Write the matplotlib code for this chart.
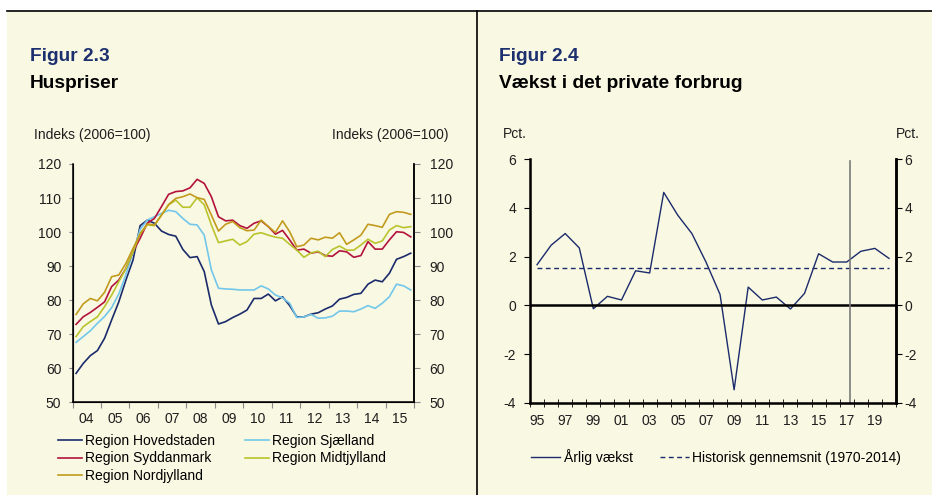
import matplotlib
matplotlib.use("Agg")
import matplotlib.pyplot as plt
from matplotlib.patches import Rectangle
from matplotlib.lines import Line2D
import numpy as np

plt.rcParams["font.family"] = ["Liberation Sans", "DejaVu Sans"]
plt.rcParams["axes.unicode_minus"] = False

CREAM = "#f9f8e3"
TXT = "#1e1e1e"
TICKC = "#8a8a8a"

# Figur 2.3: quarterly house price index 2004Q1-2015Q4 (2006=100)
quarters = 2004 + (np.arange(48) + 0.5) / 4
hovedstaden = [58.5, 61.4, 63.7, 65.2, 68.8, 74.2, 79.5, 85.9, 91.8, 101.9, 103.5, 102.6,
               100.3, 99.3, 98.8, 94.9, 92.5, 92.8, 88.4, 78.6, 73.0, 73.7, 74.9, 75.9,
               77.1, 80.5, 80.5, 81.8, 79.8, 81.0, 78.4, 75.1, 75.1, 75.9, 76.3, 77.4,
               78.3, 80.3, 80.8, 81.7, 82.0, 84.7, 85.9, 85.4, 87.9, 92.0, 92.8, 93.8]
sjaelland = [67.6, 69.3, 71.0, 73.2, 75.2, 77.8, 81.8, 87.5, 94.0, 100.8, 103.5, 104.5,
             105.5, 106.4, 106.0, 104.0, 102.3, 102.1, 99.1, 88.9, 83.5, 83.3, 83.2, 83.0,
             83.0, 83.0, 84.2, 83.3, 81.5, 80.7, 79.1, 74.9, 75.1, 75.8, 74.7, 74.8,
             75.3, 76.8, 76.8, 76.6, 77.4, 78.4, 77.6, 79.1, 81.0, 84.7, 84.2, 83.0]
syddanmark = [72.9, 75.1, 76.4, 77.9, 79.5, 84.0, 85.9, 89.3, 94.2, 98.2, 102.6, 104.0,
              107.5, 111.1, 111.9, 112.1, 113.0, 115.5, 114.3, 110.4, 104.5, 103.3, 103.5, 101.9,
              101.1, 102.6, 103.3, 101.6, 99.4, 100.5, 97.7, 94.7, 95.0, 93.8, 94.2, 93.1,
              92.9, 94.5, 94.2, 92.6, 93.1, 97.2, 95.0, 95.0, 97.7, 100.1, 99.9, 98.6]
midtjylland = [69.3, 72.2, 73.7, 75.1, 78.1, 81.5, 85.4, 89.3, 94.2, 99.6, 102.1, 101.9,
               105.0, 108.0, 109.4, 107.3, 107.3, 110.1, 108.0, 102.1, 96.9, 97.4, 97.9, 96.2,
               97.2, 99.4, 99.8, 99.1, 98.5, 98.2, 96.4, 94.7, 92.6, 93.9, 94.4, 92.8,
               94.9, 95.9, 94.7, 94.7, 96.2, 97.9, 96.7, 97.4, 100.6, 101.9, 101.3, 101.6]
nordjylland = [75.8, 78.9, 80.5, 79.8, 82.3, 86.9, 87.4, 90.8, 95.2, 99.4, 102.4, 102.1,
               105.0, 108.1, 109.9, 110.4, 111.2, 110.1, 109.6, 105.0, 100.3, 102.3, 103.1, 101.3,
               100.4, 100.6, 103.5, 101.6, 99.9, 103.3, 100.1, 95.7, 96.2, 98.2, 97.7, 98.5,
               98.2, 99.8, 96.4, 97.7, 99.1, 102.3, 101.9, 101.4, 105.2, 106.0, 105.8, 105.2]
region_names = ["Region Hovedstaden", "Region Sjælland", "Region Syddanmark",
                "Region Midtjylland", "Region Nordjylland"]
region_colors = ["#1b2b6b", "#72c7ea", "#b3123b", "#b9c42c", "#c29b1e"]
year_labels_left = ["04", "05", "06", "07", "08", "09", "10", "11", "12", "13", "14", "15"]

# Figur 2.4: annual growth in private consumption
years = list(range(1995, 2021))
growth = [1.67, 2.47, 2.95, 2.36, -0.14, 0.37, 0.22, 1.42, 1.33, 4.64, 3.70, 2.95, 1.78,
          0.45, -3.47, 0.75, 0.22, 0.34, -0.15, 0.49, 2.12, 1.78, 1.78, 2.22, 2.34, 1.93]
hist_avg = 1.55
forecast_line = 2017.2


def main():
    fig = plt.figure(figsize=(9.32, 4.95), dpi=100)
    fig.patch.set_facecolor("white")
    W, H = 932.0, 495.0
    fig.add_artist(Rectangle((7 / W, 0), 1, 1 - 11 / H, transform=fig.transFigure,
                             facecolor=CREAM, edgecolor="none", zorder=-10))
    fig.add_artist(Line2D([7 / W, 1], [1 - 11 / H] * 2, color="black", lw=1.2))
    fig.add_artist(Line2D([476.7 / W] * 2, [0, 1 - 11 / H], color="black", lw=1.2))

    # titles
    for x, fig_no, title in [(30, "Figur 2.3", "Huspriser"),
                             (499, "Figur 2.4", "Vækst i det private forbrug")]:
        fig.text(x / W, 1 - 61 / H, fig_no, fontsize=13.8, fontweight="bold",
                 color="#1c2f6e", va="baseline")
        fig.text(x / W, 1 - 88 / H, title, fontsize=13.8, fontweight="bold",
                 color="black", va="baseline")
    fig.text(34 / W, 1 - 135 / H, "Indeks (2006=100)", fontsize=10, color=TXT, va="center")
    fig.text(448 / W, 1 - 135 / H, "Indeks (2006=100)", fontsize=10, color=TXT,
             va="center", ha="right")
    fig.text(503 / W, 1 - 134 / H, "Pct.", fontsize=10, color=TXT, va="center")
    fig.text(920 / W, 1 - 134 / H, "Pct.", fontsize=10, color=TXT, va="center", ha="right")

    # ---- left chart ----
    ax = fig.add_axes([72.5 / W, 1 - 402.3 / H, (414.3 - 72.5) / W, (402.3 - 164) / H])
    ax.set_facecolor("none")
    series = [hovedstaden, sjaelland, syddanmark, midtjylland, nordjylland]
    handles = []
    for vals, name, col in zip(series, region_names, region_colors):
        (ln,) = ax.plot(quarters, vals, color=col, lw=1.2, label=name)
        handles.append(ln)
    ax.set_xlim(2004, 2016)
    ax.set_ylim(50, 120)
    ax.set_yticks(range(50, 121, 10))
    ax.set_xticks(range(2004, 2017))
    ax.set_xticklabels([])
    ax.set_xticks(np.arange(2004.5, 2016, 1), minor=True)
    ax.set_xticklabels(year_labels_left, minor=True)
    ax.tick_params(axis="x", which="major", direction="out", length=4, color=TICKC)
    ax.tick_params(axis="x", which="minor", length=0, pad=7, labelsize=10, labelcolor=TXT)
    ax.tick_params(axis="y", direction="out", length=3, color=TICKC, pad=5,
                   labelsize=10, labelcolor=TXT)
    ax.spines["top"].set_visible(False)
    for s in ["left", "right", "bottom"]:
        ax.spines[s].set_linewidth(1.1)
        ax.spines[s].set_color("black")
    ax2 = ax.twinx()
    ax2.set_ylim(50, 120)
    ax2.set_yticks(range(50, 121, 10))
    ax2.tick_params(axis="y", direction="out", length=4, color=TICKC, pad=7,
                    labelsize=10, labelcolor=TXT)
    ax2.spines["top"].set_visible(False)
    ax2.spines["right"].set_linewidth(1.1)

    order = [0, 2, 4, 1, 3]
    fig.legend([handles[i] for i in order], [region_names[i] for i in order],
               loc="upper left", bbox_to_anchor=(58 / W, 1 - 434 / H), ncol=2,
               frameon=False, fontsize=10, handlelength=1.75, handletextpad=0.2,
               columnspacing=2.15, labelspacing=0.25, borderpad=0, borderaxespad=0)

    # ---- right chart ----
    bx = fig.add_axes([530 / W, 1 - 402.7 / H, (896 - 530) / W, (402.7 - 159.3) / H])
    bx.set_facecolor("none")
    (g_line,) = bx.plot(years, growth, color="#1b2b6b", lw=1.0)
    (h_line,) = bx.plot([years[0], years[-1]], [hist_avg, hist_avg], color="#1b2b6b",
                        lw=1.0, ls=(0, (3.5, 2.5)))
    bx.axhline(0, color="black", lw=1.8)
    bx.axvline(forecast_line, ymax=0.995, color="#7a7a7a", lw=1.2)
    bx.set_xlim(1994.5, 2020.5)
    bx.set_ylim(-4, 6)
    bx.set_yticks(range(-4, 7, 2))
    bx.set_xticks(np.arange(1994.5, 2021, 1), minor=True)
    bx.set_xticks(range(1995, 2021, 2))
    bx.set_xticklabels([f"{y % 100:02d}" for y in range(1995, 2021, 2)])
    bx.tick_params(axis="x", which="minor", direction="inout", length=6, color="black")
    bx.tick_params(axis="x", which="major", length=0, pad=8, labelsize=10, labelcolor=TXT)
    bx.tick_params(axis="y", direction="out", length=4, color="black", pad=6,
                   labelsize=10, labelcolor=TXT)
    bx.spines["top"].set_visible(False)
    for s in ["left", "right", "bottom"]:
        bx.spines[s].set_linewidth(1.8)
        bx.spines[s].set_color("black")
    bx2 = bx.twinx()
    bx2.set_ylim(-4, 6)
    bx2.set_yticks(range(-4, 7, 2))
    bx2.tick_params(axis="y", direction="out", length=4, color="black", pad=2,
                    labelsize=10, labelcolor=TXT)
    bx2.spines["top"].set_visible(False)
    bx2.spines["right"].set_linewidth(1.8)

    fig.legend([g_line, h_line], ["Årlig vækst", "Historisk gennemsnit (1970-2014)"],
               loc="upper left", bbox_to_anchor=(531 / W, 1 - 449 / H), ncol=2,
               frameon=False, fontsize=10, handlelength=2.1, handletextpad=0.25,
               columnspacing=1.95, borderpad=0, borderaxespad=0)

    fig.savefig("out.png", dpi=100, facecolor=fig.get_facecolor())


if __name__ == "__main__":
    main()
